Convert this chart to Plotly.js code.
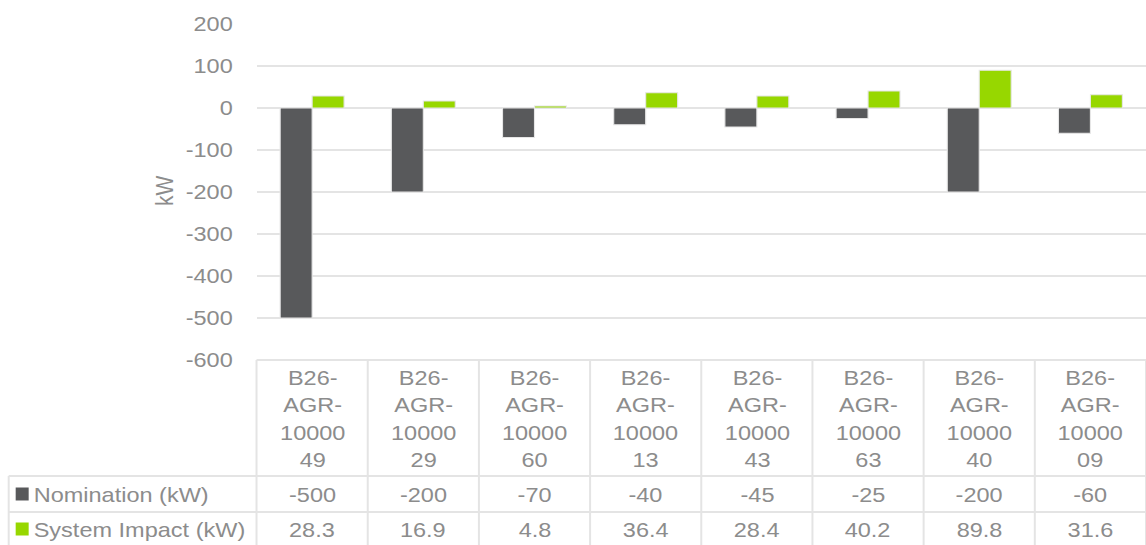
<!DOCTYPE html>
<html>
<head>
<meta charset="utf-8">
<script src="https://cdn.plot.ly/plotly-3.0.1.min.js"></script>
<style>
  html, body { margin: 0; padding: 0; background: #ffffff; overflow: hidden; }
  /* the chart is laid out narrower and widened to the full page width */
  #chart { width: 1023px; height: 545px; transform-origin: 0 0; }
</style>
</head>
<body>
<div id="chart"></div>
<script>
// Site identifiers and the two measured series (kW)
const sites = [
  'B26-AGR-1000049', 'B26-AGR-1000029', 'B26-AGR-1000060', 'B26-AGR-1000013',
  'B26-AGR-1000043', 'B26-AGR-1000063', 'B26-AGR-1000040', 'B26-AGR-1000009'
];
const nomination = [-500, -200, -70, -40, -45, -25, -200, -60];
const systemImpact = [28.3, 16.9, 4.8, 36.4, 28.4, 40.2, 89.8, 31.6];
const seriesNames = ['Nomination (kW)', 'System Impact (kW)'];
const yTicks = [200, 100, 0, -100, -200, -300, -400, -500, -600];

const FONT = 'Liberation Sans, Arial, sans-serif';
const FSIZE = 21;
const TEXT = '#8c8c8c';
const GRID = '#e4e4e4';
const COLORS = ['#58595b', '#97d700'];

// Page geometry (pixels) and the horizontal widening factor
const PAGE_W = 1146, H = 545;
const WI = 1023;
const SX = PAGE_W / WI;
document.getElementById('chart').style.transform = 'scaleX(' + SX + ')';

const PL = 256, PT = 24, PB = 360;       // plot area on the page
const PH = PB - PT;
const py = p => (PB - p) / PH;                 // page row -> paper y
const pxX = p => (p - PL) / (PAGE_W - PL);     // page column -> paper x

// Wrap a site id the way the table header shows it
function wrapSite(id) {
  const parts = id.split('-');
  const num = parts[2];
  return [parts[0] + '-', parts[1] + '-', num.slice(0, 5), num.slice(5)].join('<br>');
}

const traces = [nomination, systemImpact].map((vals, k) => ({
  type: 'bar',
  name: seriesNames[k],
  x: sites,
  y: vals,
  marker: { color: COLORS[k], line: { color: '#e6e6e6', width: 1 } },
  hoverinfo: 'skip'
}));

// Data table beneath the plot
const rowTop = py(360), rowA = py(476), rowB = py(512), rowEnd = py(560);
const lineStyle = { color: GRID, width: 2 };
const vLineStyle = { color: GRID, width: 2 / SX };
const shapes = [];
shapes.push({ type: 'line', xref: 'paper', yref: 'paper', x0: 0, x1: 1, y0: rowTop, y1: rowTop, line: lineStyle });
shapes.push({ type: 'line', xref: 'paper', yref: 'paper', x0: pxX(8), x1: 1, y0: rowA, y1: rowA, line: lineStyle });
shapes.push({ type: 'line', xref: 'paper', yref: 'paper', x0: pxX(8), x1: 1, y0: rowB, y1: rowB, line: lineStyle });
shapes.push({ type: 'line', xref: 'paper', yref: 'paper', x0: pxX(8), x1: pxX(8), y0: rowA, y1: rowEnd, line: vLineStyle });
for (let i = 0; i <= sites.length; i++) {
  shapes.push({ type: 'line', xref: 'paper', yref: 'paper', x0: i / sites.length, x1: i / sites.length, y0: rowTop, y1: rowEnd, line: vLineStyle });
}
// legend keys inside the table
const keyRows = [494, 529];
keyRows.forEach((cy, k) => {
  shapes.push({ type: 'rect', xref: 'paper', yref: 'paper',
    x0: pxX(15), x1: pxX(28), y0: py(cy - 6.5), y1: py(cy + 6.5),
    fillcolor: COLORS[k], line: { width: 0 } });
});

const annFont = { family: FONT, size: FSIZE, color: TEXT };
const annotations = [];
sites.forEach((s, i) => {
  annotations.push({ xref: 'x', yref: 'paper', x: i, y: py(418), text: wrapSite(s),
    showarrow: false, font: annFont, xanchor: 'center', yanchor: 'middle', align: 'center' });
  annotations.push({ xref: 'x', yref: 'paper', x: i, y: py(494), text: String(nomination[i]),
    showarrow: false, font: annFont, xanchor: 'center', yanchor: 'middle' });
  annotations.push({ xref: 'x', yref: 'paper', x: i, y: py(529), text: String(systemImpact[i]),
    showarrow: false, font: annFont, xanchor: 'center', yanchor: 'middle' });
});
seriesNames.forEach((n, k) => {
  annotations.push({ xref: 'paper', yref: 'paper', x: pxX(31), y: py(keyRows[k]), text: n,
    showarrow: false, font: annFont, xanchor: 'left', yanchor: 'middle' });
});
// y-axis title
annotations.push({ xref: 'paper', yref: 'paper', x: pxX(163), y: py(191), text: 'kW', textangle: -90,
  showarrow: false, font: annFont, xanchor: 'center', yanchor: 'middle' });

const layout = {
  width: WI, height: H,
  margin: { l: PL / SX, r: 0, t: PT, b: H - PB, pad: 0 },
  paper_bgcolor: '#ffffff', plot_bgcolor: '#ffffff',
  showlegend: false,
  barmode: 'group', bargap: 0.425, bargroupgap: 0,
  font: { family: FONT, size: FSIZE, color: TEXT },
  xaxis: { type: 'category', range: [-0.5, sites.length - 0.5], showticklabels: false,
    showgrid: false, zeroline: false, showline: false, ticks: '' },
  yaxis: { range: [-600, 200], tickvals: yTicks, ticktext: yTicks.map(String),
    showgrid: true, gridcolor: GRID, gridwidth: 2, zeroline: true, zerolinecolor: GRID, zerolinewidth: 2,
    showline: false, ticks: 'outside', ticklen: 16, tickcolor: 'rgba(0,0,0,0)',
    tickfont: { family: FONT, size: FSIZE, color: TEXT } },
  shapes: shapes,
  annotations: annotations
};

Plotly.newPlot('chart', traces, layout, { displayModeBar: false, staticPlot: true });
</script>
</body>
</html>
